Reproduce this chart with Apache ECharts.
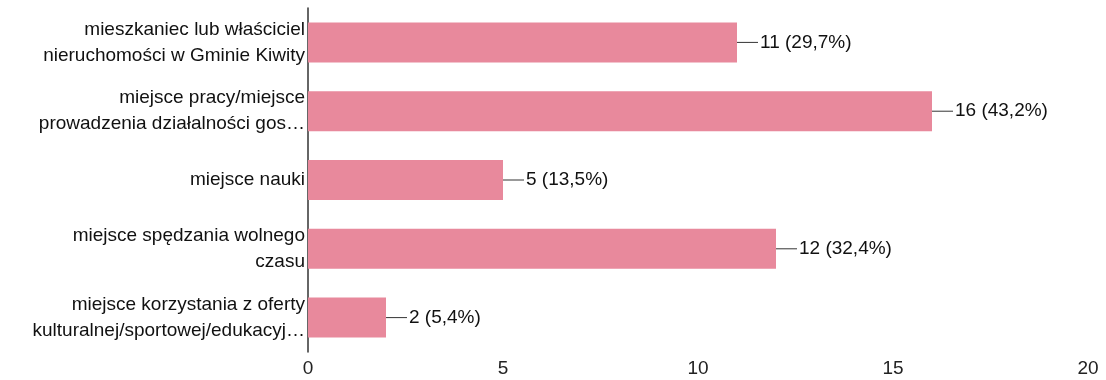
<!DOCTYPE html>
<html><head><meta charset="utf-8">
<script src="https://cdn.jsdelivr.net/npm/echarts@6/dist/echarts.min.js"></script>
<style>html,body{margin:0;padding:0;background:#fff}#c{width:1106px;height:380px}</style>
</head><body><div id="c"></div>
<script>
const categories = [
  "mieszkaniec lub właściciel\nnieruchomości w Gminie Kiwity",
  "miejsce pracy/miejsce\nprowadzenia działalności gos…",
  "miejsce nauki",
  "miejsce spędzania wolnego\nczasu",
  "miejsce korzystania z oferty\nkulturalnej/sportowej/edukacyj…"
];
const values = [11, 16, 5, 12, 2];
const percents = ["29,7%", "43,2%", "13,5%", "32,4%", "5,4%"];
const xTicks = [0, 5, 10, 15, 20];

const FONT = 'Liberation Sans';
const chart = echarts.init(document.getElementById('c'));
chart.setOption({
  animation: false,
  grid: {left: 308, right: 18, top: 8, bottom: 28},
  xAxis: {
    type: 'value', min: xTicks[0], max: xTicks[xTicks.length-1], interval: 5,
    axisLine: {show: false}, axisTick: {show: false}, splitLine: {show: false},
    axisLabel: {color: '#222', fontFamily: FONT, fontSize: 19, margin: 7}
  },
  yAxis: {
    type: 'category', data: categories, inverse: true,
    axisLine: {show: true, lineStyle: {color: '#333', width: 1.5}},
    axisTick: {show: false},
    axisLabel: {color: '#111', fontFamily: FONT, fontSize: 19, lineHeight: 26, margin: 3, align: 'right'}
  },
  series: [{
    type: 'bar', data: values, barWidth: 40,
    itemStyle: {color: '#e8899c'},
    label: {
      show: true, position: 'right', distance: 0,
      formatter: p => '{l|}{v|' + p.value + ' (' + percents[p.dataIndex] + ')}',
      rich: {
        l: {width: 21, height: 1, backgroundColor: '#333'},
        v: {color: '#111', fontFamily: FONT, fontSize: 19, padding: [0,0,0,2]}
      }
    }
  }]
});
</script></body></html>
